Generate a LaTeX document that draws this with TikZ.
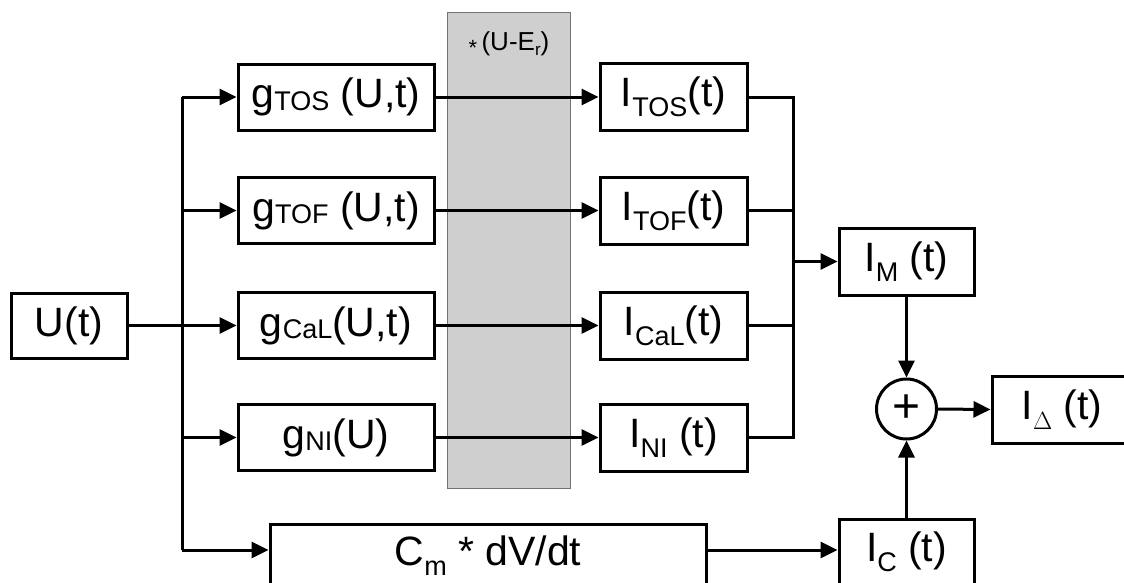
\documentclass[tikz,border=0pt]{standalone}
\usepackage{fontspec}
\setmainfont{Liberation Sans}
\usetikzlibrary{arrows.meta}
\newcommand\lo[1]{\raisebox{-0.24em}{\fontsize{27}{30}\selectfont #1}}
\newcommand\glo[1]{\raisebox{-0.06em}{\fontsize{27}{30}\selectfont #1}}
\begin{document}
\begin{tikzpicture}[x=1pt,y=-1pt,
  blk/.style={draw,line width=3pt,inner sep=0pt,font=\fontsize{41}{48}\selectfont},
  gbox/.style={blk,minimum width=196pt,minimum height=66pt},
  ibox/.style={blk,minimum width=147pt,minimum height=67pt},
  wire/.style={line width=3pt},
  arr/.style={wire,-{Triangle[length=17pt,width=16pt]}},
  shade/.style={draw=black!55,line width=1pt,fill=black!19}]
\clip (0,0) rectangle (1124,582);
% multiplier band
\node[shade,minimum width=123pt,minimum height=476pt,inner sep=0pt] (mult) at (508.5,250) {};
\node[font=\fontsize{26}{30}\selectfont,inner sep=0pt] (multlbl) at (509,44) {\raisebox{-4.5pt}{\fontsize{22}{24}\selectfont *}\,(U-E\raisebox{-0.2em}{\fontsize{17}{18}\selectfont r})};
% input
\node[blk,minimum width=116pt,minimum height=65pt] (u) at (69,325.5) {U(t)};
\coordinate (split) at (182,325.5);
\coordinate (bt) at (182,97);
\coordinate (bb) at (182,550);
% conductance blocks
\node[gbox] (gtos) at (336,97) {g\glo{TOS} (U,t)};
\node[gbox] (gtof) at (336,210.5) {g\glo{TOF} (U,t)};
\node[gbox] (gcal) at (336,325.5) {g\glo{CaL}(U,t)};
\node[gbox] (gni) at (336,437.5) {g\glo{NI}(U)};
% current blocks
\node[ibox] (itos) at (673.5,97) {I\lo{TOS}(t)};
\node[ibox] (itof) at (673.5,210.5) {I\lo{TOF}(t)};
\node[ibox] (ical) at (673.5,325.5) {I\lo{CaL}(t)};
\node[ibox] (ini) at (673.5,437.5) {I\lo{NI} (t)};
% sum side
\node[blk,minimum width=135pt,minimum height=67pt] (im) at (906.5,261.5) {I\lo{M} (t)};
\node[draw,circle,line width=3pt,minimum size=60pt,inner sep=0pt,font=\fontsize{48}{50}\selectfont] (sum) at (906.5,409) {+};
\node[blk,minimum width=140pt,minimum height=67pt] (idelta) at (1062,409.5) {I\lo{$\Delta$} (t)};
\node[blk,minimum width=135pt,minimum height=90pt] (ic) at (906.5,564) {};
\node[font=\fontsize{41}{48}\selectfont,inner sep=0pt] (ictext) at (906.5,552) {I\lo{C} (t)};
\node[blk,minimum width=436pt,minimum height=90pt] (cm) at (488,569) {};
\node[font=\fontsize{41}{48}\selectfont,inner sep=0pt] (cmtext) at (488,556) {C\lo{m} * dV/dt};
% wiring
\draw[wire] (u.east) -- (split);
\draw[wire] (bt) -- (bb);
\draw[arr] (bt) -- (gtos.west);
\draw[arr] (bt |- gtof.west) -- (gtof.west);
\draw[arr] (split) -- (gcal.west);
\draw[arr] (bt |- gni.west) -- (gni.west);
\draw[arr] (bb) -- (bb -| cm.west);
\draw[arr] (gtos.east) -- (itos.west);
\draw[arr] (gtof.east) -- (itof.west);
\draw[arr] (gcal.east) -- (ical.west);
\draw[arr] (gni.east) -- (ini.west);
\coordinate (bus) at (793,261.5);
\draw[wire] (itos.east) -| (bus);
\draw[wire] (ini.east) -| (bus);
\draw[wire] (itof.east) -- (itof.east -| bus);
\draw[wire] (ical.east) -- (ical.east -| bus);
\draw[arr] (bus) -- (im.west);
\draw[arr] (im.south) -- (sum.north);
\draw[arr] (ic.north) -- (sum.south);
\draw[arr] (sum.east) -- (idelta.west);
\draw[arr] (cm.east |- bb) -- (ic.west |- bb);
\end{tikzpicture}
\end{document}
